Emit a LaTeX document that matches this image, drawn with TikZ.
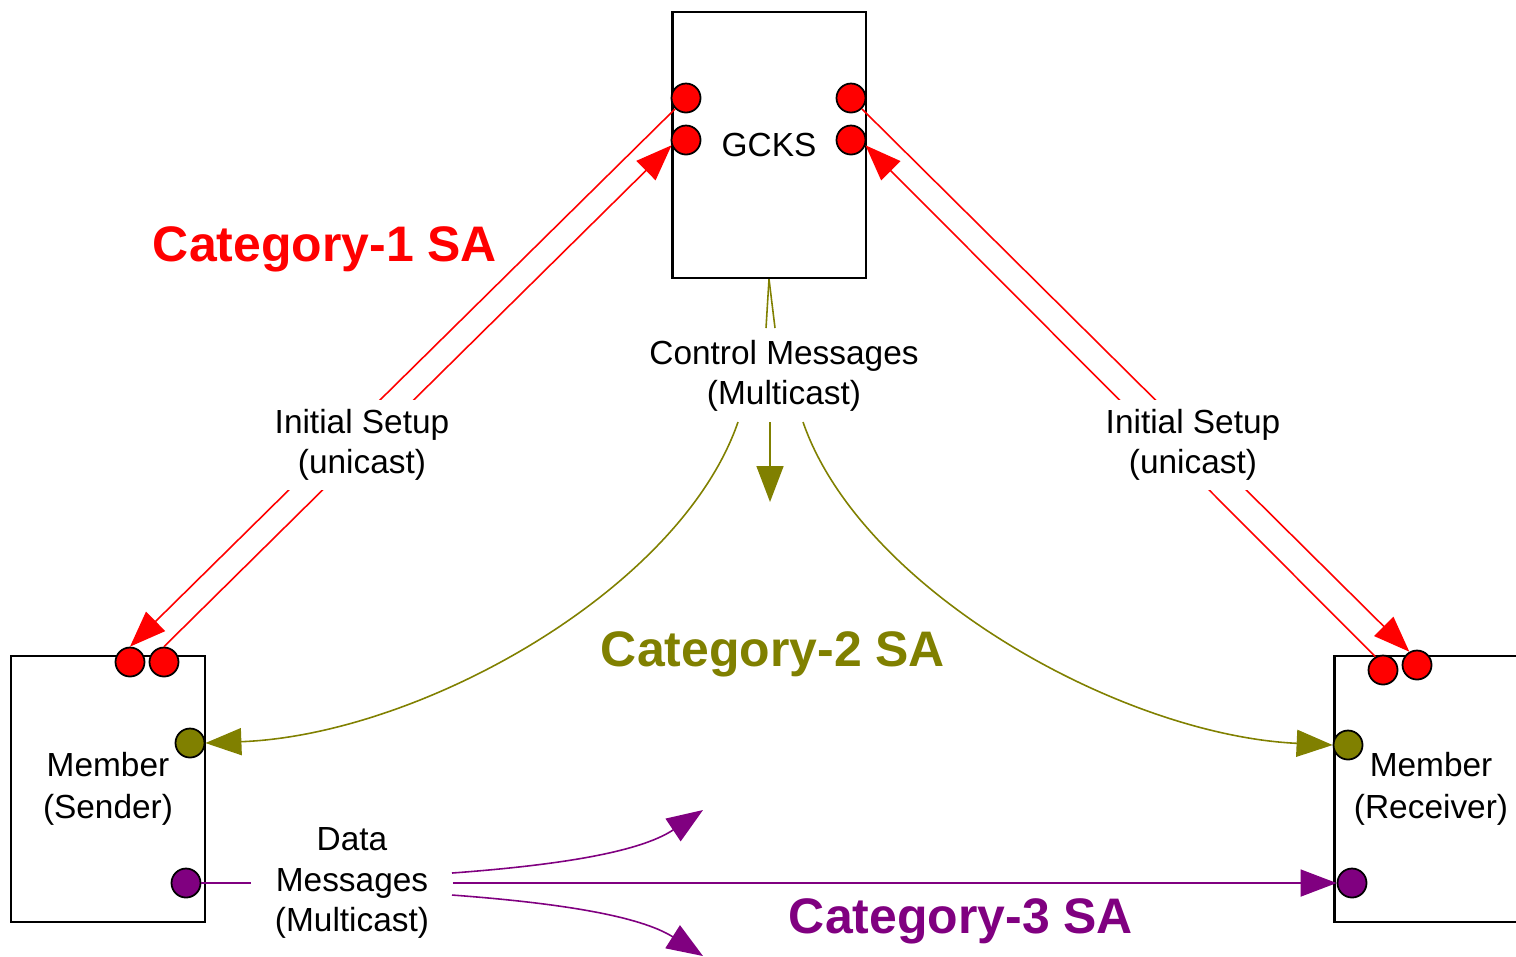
\documentclass[tikz,border=0pt]{standalone}
\usepackage{fontspec}
\setmainfont{Liberation Sans}
\usetikzlibrary{arrows.meta}
\definecolor{sared}{HTML}{FF0000}
\definecolor{saolive}{HTML}{808000}
\definecolor{sapurple}{HTML}{800080}

\begin{document}
\begin{tikzpicture}[x=0.01cm,y=-0.01cm,
    box/.style={rectangle,draw,line width=0.6pt,minimum width=1.93cm,minimum height=2.66cm,align=center,font=\fontsize{9.5}{12}\selectfont},
    port/.style={circle,draw,line width=0.5pt,minimum size=0.29cm,inner sep=0pt},
    lbl/.style={fill=white,inner sep=0pt,align=center,font=\fontsize{9.5}{11.4}\selectfont},
    cat/.style={font=\fontsize{14.2}{17}\selectfont\bfseries},
    tip/.style={-{Triangle[length=0.36cm,width=0.27cm]}},
    redline/.style={sared,line width=0.45pt},oliveline/.style={saolive,line width=0.45pt},
    purpleline/.style={sapurple,line width=0.45pt}]
    \useasboundingbox (0,0) rectangle (1516,956);
    % boxes
    \node[box] (gcks) at (769,145) {GCKS};
    \node[box] (sender) at (108,789) {Member\\(Sender)};
    \node[box] (recv) at (1431,789) {Member\\(Receiver)};
    % ports
    \node[port,fill=sared] (gL1) at (686,98) {};\node[port,fill=sared] (gL2) at (686,140) {};
    \node[port,fill=sared] (gR1) at (851,98) {};\node[port,fill=sared] (gR2) at (851,140) {};
    \node[port,fill=sared] (sT1) at (130,662) {};\node[port,fill=sared] (sT2) at (164,662) {};
    \node[port,fill=sared] (rT1) at (1383,670) {};\node[port,fill=sared] (rT2) at (1417,665) {};
    \node[port,fill=saolive] (sOl) at (190,743) {};\node[port,fill=saolive] (rOl) at (1348,745) {};
    \node[port,fill=sapurple] (sPu) at (186,883) {};\node[port,fill=sapurple] (rPu) at (1352,883) {};
    % category-1: unicast setup
    \draw[redline,tip](gL1.south west)--(sT1.north);
    \draw[redline,tip](sT2.north)--(gL2.200);
    \draw[redline,tip](gR1.south east)--(rT2.120);
    \draw[redline,tip](rT1.120)--(gR2.-20);
    \node[lbl,minimum height=0.9cm] (setupL) at (362,445) {Initial Setup\\(unicast)};
    \node[lbl,minimum height=0.9cm] (setupR) at (1193,445) {Initial Setup\\(unicast)};
    % category-2: control messages
    \node[lbl,minimum height=0.94cm] (ctrl) at (784,376) {Control Messages\\(Multicast)};
    \coordinate (ctA) at (766,328);\coordinate (ctB) at (775,328);
    \coordinate (ctL) at (738,422);\coordinate (ctC) at (770,422);\coordinate (ctR) at (803,422);
    \coordinate (ctE) at (770,502);
    \draw[oliveline](gcks.south)--(ctA);\draw[oliveline](gcks.south)--(ctB);
    \draw[oliveline,tip](ctC)--(ctE);
    \draw[oliveline,tip](ctL) .. controls (680,590) and (420,735) .. (sOl.east);
    \draw[oliveline,tip](ctR) .. controls (861,590) and (1121,735) .. (rOl.west);
    % category-3: data messages
    \node[lbl,minimum width=2cm,minimum height=1.2cm] (data) at (352,883) {Data\\Messages\\(Multicast)};
    \coordinate (dtU) at (452,873);\coordinate (dtL) at (452,895);
    \coordinate (dtUE) at (703,810);\coordinate (dtLE) at (703,956);
    \draw[purpleline](sPu.east)--(data.west);
    \draw[purpleline,tip](data.east)--(rPu.west);
    \draw[purpleline,tip](dtU) .. controls (560,865) and (640,852) .. (dtUE);
    \draw[purpleline,tip](dtL) .. controls (560,903) and (640,916) .. (dtLE);
    % SA labels
    \node[cat,sared] (cat1) at (325,249) {Category-1 SA};
    \node[cat,saolive] (cat2) at (773,654) {Category-2 SA};
    \node[cat,sapurple] (cat3) at (961,921) {Category-3 SA};
\end{tikzpicture}
\end{document}
